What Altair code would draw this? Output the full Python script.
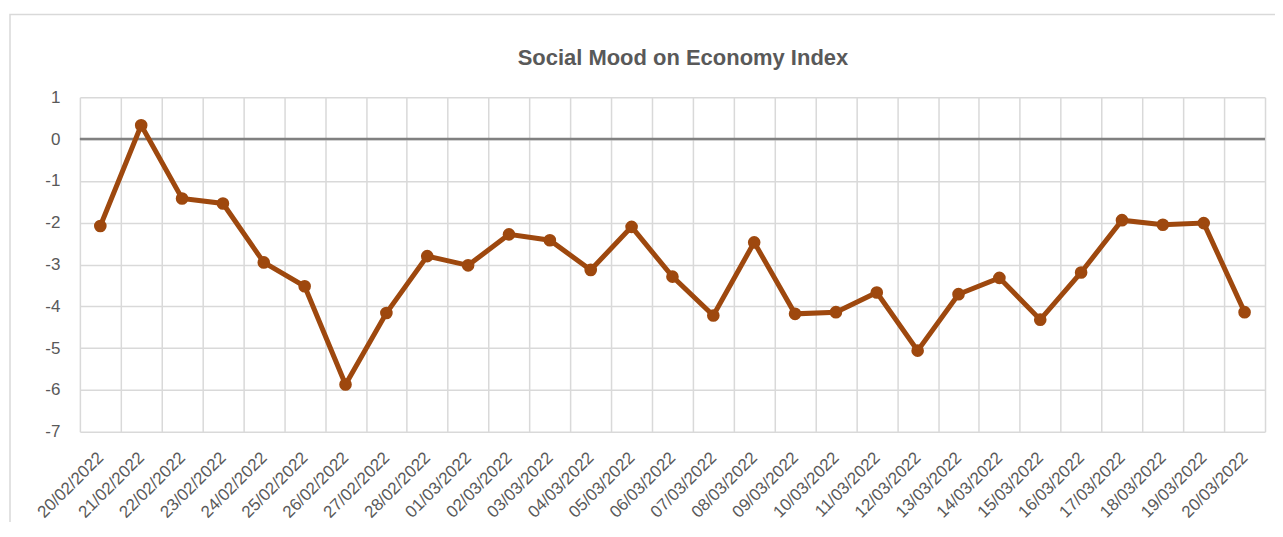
import altair as alt
import pandas as pd

dates = ["20/02/2022", "21/02/2022", "22/02/2022", "23/02/2022", "24/02/2022",
         "25/02/2022", "26/02/2022", "27/02/2022", "28/02/2022", "01/03/2022",
         "02/03/2022", "03/03/2022", "04/03/2022", "05/03/2022", "06/03/2022",
         "07/03/2022", "08/03/2022", "09/03/2022", "10/03/2022", "11/03/2022",
         "12/03/2022", "13/03/2022", "14/03/2022", "15/03/2022", "16/03/2022",
         "17/03/2022", "18/03/2022", "19/03/2022", "20/03/2022"]
values = [-2.08, 0.33, -1.42, -1.54, -2.95, -3.52, -5.87, -4.16, -2.80, -3.02,
          -2.28, -2.42, -3.13, -2.10, -3.29, -4.22, -2.47, -4.18, -4.14, -3.67,
          -5.06, -3.71, -3.32, -4.32, -3.19, -1.94, -2.05, -2.01, -4.14]
y_ticks = [1, 0, -1, -2, -3, -4, -5, -6, -7]
title_text = "Social Mood on Economy Index"

df = pd.DataFrame({"date": dates, "value": values})

LINE = "#9E480E"
GRID = "#D9D9D9"
TEXT = "#595959"
FONT = "Liberation Sans"

x_enc = alt.X(
    "date:N", sort=dates, bandPosition=0.5,
    scale=alt.Scale(type="band", paddingInner=0, paddingOuter=0),
    axis=alt.Axis(title=None, labelAngle=-45, labelAlign="right", labelBaseline="middle",
                  labelPadding=23, labelFont=FONT, labelFontSize=17,
                  labelColor=TEXT, ticks=False, domain=False, grid=True, tickBand="extent",
                  gridColor=GRID, gridWidth=1.5, labelOverlap=False),
)
y_enc = alt.Y(
    "value:Q", scale=alt.Scale(domain=[-7, 1], nice=False),
    axis=alt.Axis(title=None, values=y_ticks, labelFont=FONT, labelFontSize=17,
                  labelColor=TEXT, ticks=False, domain=False, grid=True, gridColor=GRID,
                  gridWidth=1.5, labelPadding=20, labelExpr="'' + datum.value"),
)

base = alt.Chart(df)
line = base.mark_line(color=LINE, strokeWidth=5).encode(x=x_enc, y=y_enc)
pts = base.mark_point(filled=True, opacity=1, color=LINE, size=160).encode(x=x_enc, y=y_enc)
zero = alt.Chart(pd.DataFrame({"z": [0]})).mark_rule(color="#808080", strokeWidth=2.5).encode(y="z:Q")
frame = alt.Chart(pd.DataFrame({"f": [0]})).mark_rect(fill=None, stroke=GRID, strokeWidth=1.5).encode(
    x=alt.value(-70), x2=alt.value(1300), y=alt.value(-83), y2=alt.value(600))
title = alt.Chart(pd.DataFrame({"t": [title_text]})).mark_text(
    font=FONT, fontSize=22, fontWeight="bold", color=TEXT, align="center", baseline="middle"
).encode(text="t:N", x=alt.value(604), y=alt.value(-39))

chart = alt.layer(frame, zero, line, pts, title).properties(
    width=1187, height=335,
    autosize=alt.AutoSizeParams(type="none"),
    padding={"left": 72, "top": 89, "right": 10, "bottom": 90},
).configure_view(stroke=None)

chart.save("out.html", embed_options={"renderer": "svg", "actions": False})
